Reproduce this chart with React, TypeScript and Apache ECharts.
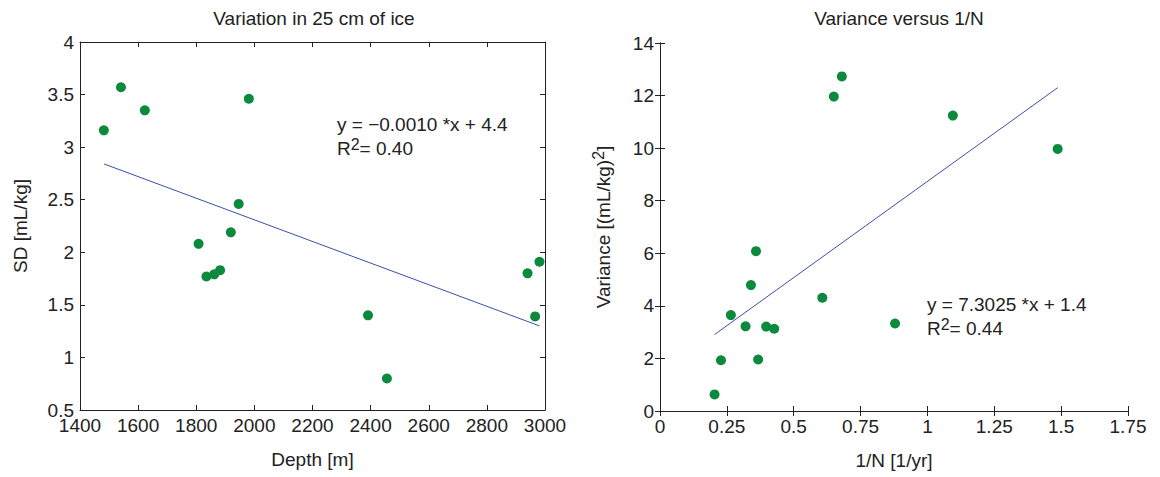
import { useEffect, useRef } from 'react'
import * as echarts from 'echarts'

// left plot: SD vs depth
const depthX = [1482, 1541, 1623, 1981, 1808, 1835, 1862, 1882, 1919, 1946, 2391, 2456, 2940, 2981, 2966]
const sdY = [3.16, 3.57, 3.35, 3.46, 2.08, 1.77, 1.79, 1.83, 2.19, 2.46, 1.40, 0.80, 1.80, 1.91, 1.39]
const sdFit = [[1483, 2.84], [2981, 1.30]]

// right plot: variance vs 1/N
const invN = [0.204, 0.228, 0.265, 0.32, 0.34, 0.359, 0.367, 0.397, 0.427, 0.607, 0.65, 0.68, 0.879, 1.095, 1.487]
const variance = [0.63, 1.93, 3.65, 3.22, 4.79, 6.08, 1.96, 3.21, 3.13, 4.31, 11.96, 12.73, 3.33, 11.24, 9.97]
const varFit = [[0.204, 2.91], [1.487, 12.3]]

const green = '#0b8a3e'
const blue = '#3b4fa8'
const font = 'Liberation Sans, Arial, sans-serif'
const sup = { fontSize: 16, verticalAlign: 'top', padding: [0, 0, 10, 0], fill: '#222', color: '#222', fontFamily: font }

const frameAxis = (pos: string, gridIndex: number, min: number, max: number, interval: number) => ({
  type: 'value', gridIndex, position: pos, min, max, interval,
  axisLine: { show: true, lineStyle: { color: '#222' } },
  axisTick: { show: true, inside: true, length: 5, lineStyle: { color: '#222' } },
  axisLabel: { show: false }, splitLine: { show: false }
})

const mainAxis = (gridIndex: number, min: number, max: number, interval: number, name: string, isY: boolean) => ({
  type: 'value', gridIndex, min, max, interval, name,
  nameLocation: 'middle', nameGap: isY ? 50 : 40,
  nameTextStyle: { fontFamily: font, fontSize: 19, color: '#222', rich: { s: sup } },
  axisLine: { show: true, onZero: false, lineStyle: { color: '#222' } },
  axisTick: { show: true, inside: true, length: 5, lineStyle: { color: '#222' } },
  axisLabel: { fontFamily: font, fontSize: 19, color: '#222', margin: 6, formatter: (v: number) => String(v) },
  splitLine: { show: false }
})

const App: React.FC = () => {
  const chartRef = useRef<HTMLDivElement>(null)
  useEffect(() => {
    if (!chartRef.current) return
    const chart = echarts.init(chartRef.current, undefined, { renderer: 'svg' })
    const titleStyle = { fontFamily: font, fontSize: 19, fontWeight: 'normal', color: '#222' }
    chart.setOption({
      animation: false,
      title: [
        { text: 'Variation in 25 cm of ice', left: 309, top: 4, textAlign: 'center', textStyle: titleStyle },
        { text: 'Variance versus 1/N', left: 894, top: 4, textAlign: 'center', textStyle: titleStyle }
      ],
      grid: [
        { left: 80, width: 465, top: 42, height: 368 },
        { left: 660, width: 468, top: 43, height: 368 }
      ],
      xAxis: [
        mainAxis(0, 1400, 3000, 200, 'Depth [m]', false),
        frameAxis('top', 0, 1400, 3000, 200),
        mainAxis(1, 0, 1.75, 0.25, '1/N [1/yr]', false),
        frameAxis('top', 1, 0, 1.75, 0.25)
      ],
      yAxis: [
        mainAxis(0, 0.5, 4, 0.5, 'SD [mL/kg]', true),
        frameAxis('right', 0, 0.5, 4, 0.5),
        { ...mainAxis(1, 0, 14, 2, 'Variance [(mL/kg){s|2}]', true), nameGap: 44 },
        frameAxis('right', 1, 0, 14, 2)
      ],
      series: [
        { type: 'line', xAxisIndex: 0, yAxisIndex: 0, data: sdFit, symbol: 'none', lineStyle: { color: blue, width: 1 } },
        { type: 'scatter', xAxisIndex: 0, yAxisIndex: 0, data: depthX.map((x, i) => [x, sdY[i]]), symbolSize: 10, itemStyle: { color: green, opacity: 1 } },
        { type: 'line', xAxisIndex: 2, yAxisIndex: 2, data: varFit, symbol: 'none', lineStyle: { color: blue, width: 1 } },
        { type: 'scatter', xAxisIndex: 2, yAxisIndex: 2, data: invN.map((x, i) => [x, variance[i]]), symbolSize: 10, itemStyle: { color: green, opacity: 1 } }
      ],
      graphic: [
        {
          type: 'text', left: 337, top: 112,
          style: { text: 'y = \u22120.0010 *x + 4.4\nR{s|2}= 0.40', fontFamily: font, fontSize: 19, fill: '#222', lineHeight: 24, rich: { s: sup } }
        },
        {
          type: 'text', left: 927, top: 292,
          style: { text: 'y = 7.3025 *x + 1.4\nR{s|2}= 0.44', fontFamily: font, fontSize: 19, fill: '#222', lineHeight: 24, rich: { s: sup } }
        }
      ]
    })
    return () => chart.dispose()
  }, [])
  return <div ref={chartRef} style={{ position: 'absolute', left: 0, top: 0, width: '1160px', height: '477px', background: '#fff' }} />
}

export default App
